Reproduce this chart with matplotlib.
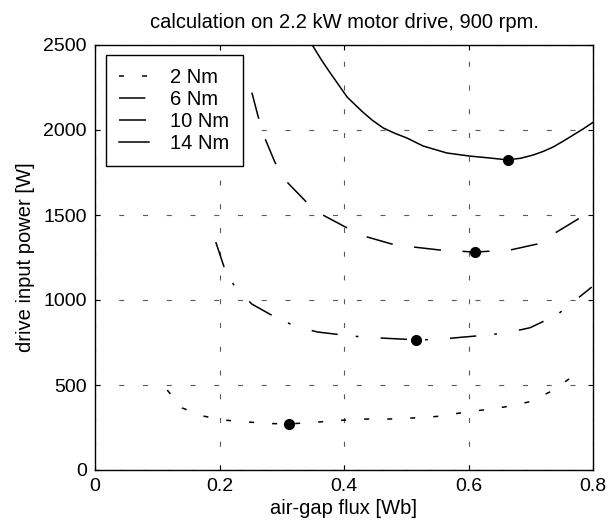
import numpy as np
import matplotlib
matplotlib.use('Agg')
import matplotlib.pyplot as plt

plt.rcParams['font.family'] = ['Liberation Sans', 'DejaVu Sans']
plt.rcParams['lines.scale_dashes'] = False

# values (flux in Wb, power in W)
flux_2 = [0.116, 0.140, 0.173, 0.206, 0.246, 0.284, 0.312, 0.358, 0.402, 0.437, 0.474,
          0.511, 0.549, 0.586, 0.623, 0.662, 0.699, 0.734, 0.766, 0.778]
power_2 = [470, 365, 318, 294, 282, 273, 271, 282, 294, 300, 300,
           306, 315, 335, 353, 373, 402, 465, 547, 585]

flux_6 = [0.194, 0.209, 0.225, 0.252, 0.289, 0.321, 0.357, 0.398, 0.431, 0.471, 0.516,
          0.549, 0.586, 0.630, 0.663, 0.699, 0.742, 0.768, 0.798]
power_6 = [1341, 1176, 1076, 976, 900, 847, 812, 794, 782, 774, 766,
           767, 780, 794, 808, 837, 912, 988, 1076]

flux_10 = [0.252, 0.262, 0.272, 0.289, 0.310, 0.341, 0.366, 0.405, 0.437, 0.477, 0.511,
           0.554, 0.610, 0.667, 0.710, 0.739, 0.776, 0.800]
power_10 = [2220, 2080, 1960, 1810, 1688, 1571, 1500, 1424, 1371, 1329, 1312,
            1294, 1282, 1294, 1329, 1394, 1476, 1530]

flux_14 = [0.330, 0.349, 0.365, 0.378, 0.392, 0.405, 0.418, 0.430, 0.446, 0.463, 0.482,
           0.501, 0.527, 0.565, 0.601, 0.635, 0.663, 0.684, 0.704, 0.720, 0.736, 0.752,
           0.768, 0.784, 0.800]
power_14 = [2615, 2500, 2405, 2335, 2262, 2194, 2148, 2106, 2056, 2012, 1980,
            1953, 1906, 1865, 1847, 1835, 1824, 1834, 1853, 1874, 1900, 1934,
            1970, 2006, 2045]

# minimum points (dots)
opt_flux = [0.312, 0.516, 0.610, 0.663]
opt_power = [271, 766, 1282, 1824]

labels = ['2 Nm', '6 Nm', '10 Nm', '14 Nm']
xticks = [0, 0.2, 0.4, 0.6, 0.8]
xticklabels = ['0', '0.2', '0.4', '0.6', '0.8']
yticks = [0, 500, 1000, 1500, 2000, 2500]

fs = 14.5
fig = plt.figure(figsize=(6.08, 5.3), dpi=100)
ax = fig.add_axes([95 / 608, 1 - 470 / 530, 498 / 608, 425 / 530])

styles = [(0, (3.6, 13)), (0, (19, 13, 2, 16)), (0, (19.5, 15.5)), '-']
curves = [(flux_2, power_2), (flux_6, power_6), (flux_10, power_10), (flux_14, power_14)]
for (fx, pw), ls, lab in zip(curves, styles, labels):
    ax.plot(fx, pw, color='black', linestyle=ls, linewidth=1.1, label=lab)

ax.plot(opt_flux, opt_power, 'o', color='black', markersize=7, zorder=5)

ax.set_xlim(0, 0.8)
ax.set_ylim(0, 2500)
ax.set_xticks(xticks)
ax.set_xticklabels(xticklabels)
ax.set_yticks(yticks)
ax.grid(True, color='0.35', linewidth=0.8, linestyle=(0, (3.6, 13.5)))
ax.set_axisbelow(True)
ax.tick_params(direction='in', top=True, right=True, length=3.6, labelsize=14, pad=6)
for sp in ax.spines.values():
    sp.set_linewidth(1.0)

ax.set_title('calculation on 2.2 kW motor drive, 900 rpm.', fontsize=fs, pad=12)
ax.set_xlabel('air-gap flux [Wb]', fontsize=fs, labelpad=3)
ax.set_ylabel('drive input power [W]', fontsize=fs, labelpad=6)

leg = ax.legend(loc='upper left', bbox_to_anchor=(0.022, 0.976), borderaxespad=0,
                fontsize=fs, fancybox=False, framealpha=1, edgecolor='black',
                handlelength=1.5, handletextpad=1.05, labelspacing=0.15, borderpad=0.65)
leg.get_frame().set_linewidth(1.0)

fig.savefig('out.png', dpi=100)
